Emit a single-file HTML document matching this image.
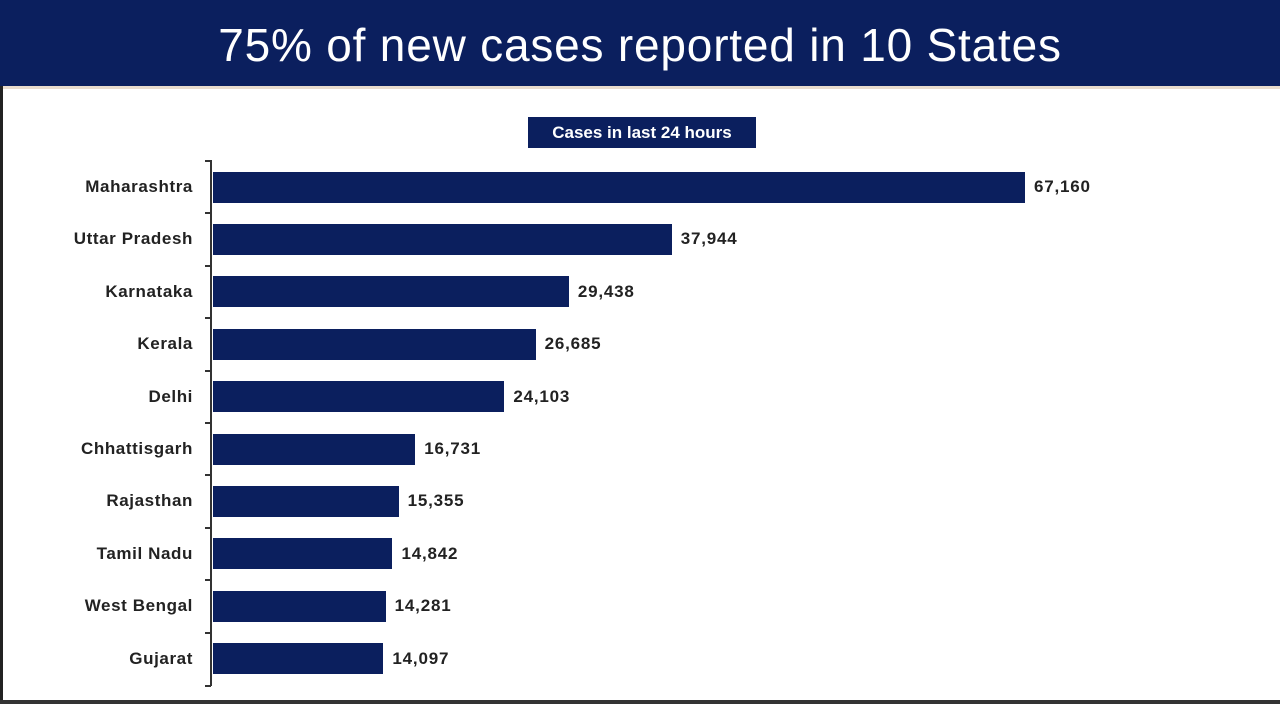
<!DOCTYPE html>
<html><head><style>
body{margin:0;width:1280px;height:704px;overflow:hidden;background:#fff;font-family:"Liberation Sans",sans-serif}
.hdr{position:absolute;left:0;top:0;width:1280px;height:86px;background:#0b1f5e;border-bottom:3px solid #e9dccd}
.hdr div{color:#fff;font-size:46px;text-align:center;line-height:90px;letter-spacing:0.8px}
.sub{position:absolute;left:528px;top:117px;width:228px;height:31px;background:#0b1f5e;color:#fff;font-weight:bold;font-size:17px;text-align:center;line-height:31px}
.frame{position:absolute;left:0;top:86px;width:3px;height:618px;background:#222}
.bot{position:absolute;left:0;top:700px;width:1280px;height:4px;background:#333}
.ax{position:absolute;left:210px;top:160px;width:2px;height:526px;background:#333}
.bar{position:absolute;left:213px;height:31px;background:#0b1f5e}
.lab{position:absolute;left:0;width:193px;text-align:right;font-weight:bold;font-size:17px;letter-spacing:0.6px;color:#222}
.val{position:absolute;font-weight:bold;font-size:17px;letter-spacing:0.8px;color:#222}
</style></head><body>
<div class="hdr"><div>75% of new cases reported in 10 States</div></div>
<div class="frame"></div><div class="bot"></div>
<div class="sub">Cases in last 24 hours</div>
<div class="ax"></div>
<div id="c"></div>
<script>
var d=[["Maharashtra",67160,"67,160"],["Uttar Pradesh",37944,"37,944"],["Karnataka",29438,"29,438"],["Kerala",26685,"26,685"],["Delhi",24103,"24,103"],["Chhattisgarh",16731,"16,731"],["Rajasthan",15355,"15,355"],["Tamil Nadu",14842,"14,842"],["West Bengal",14281,"14,281"],["Gujarat",14097,"14,097"]];
var h="";d.forEach(function(r,i){var cy=187+i*52.4;var w=r[1]*0.01209;
h+='<div class="bar" style="top:'+(cy-15.5)+'px;width:'+w+'px"></div>';
h+='<div class="lab" style="top:'+(cy-10)+'px">'+r[0]+'</div>';
h+='<div class="val" style="top:'+(cy-10)+'px;left:'+(213+w+9)+'px">'+r[2]+'</div>';
h+='<div style="position:absolute;left:205px;width:6px;height:2px;background:#333;top:'+(cy-27)+'px"></div>';});
h+='<div style="position:absolute;left:205px;width:6px;height:2px;background:#333;top:685px"></div>';
document.getElementById("c").innerHTML=h;
</script>
</body></html>
